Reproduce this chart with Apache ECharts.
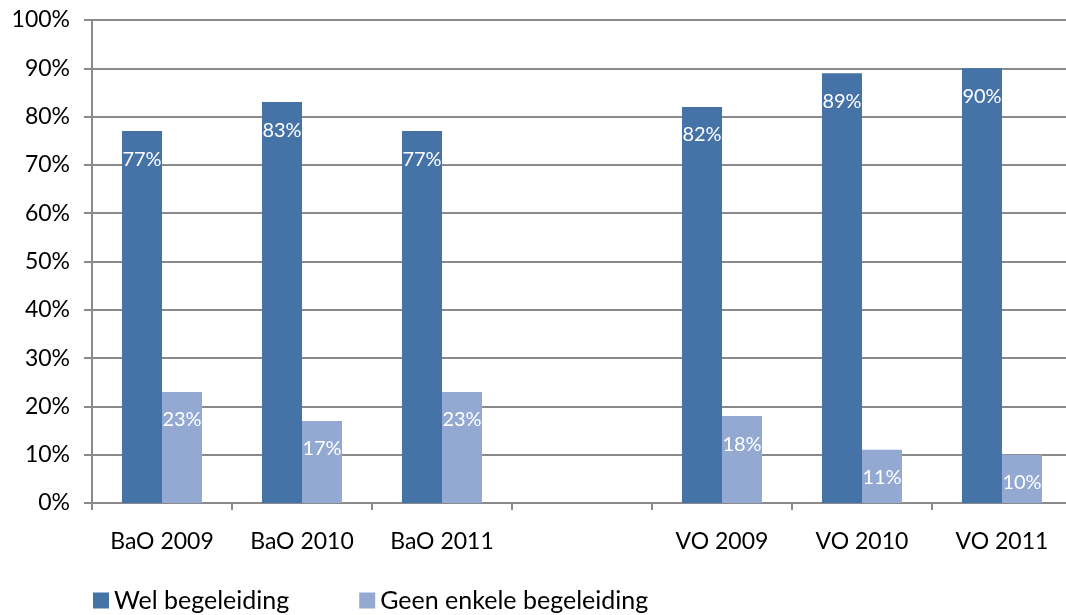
<!DOCTYPE html>
<html>
<head>
<meta charset="utf-8">
<script src="https://cdn.jsdelivr.net/npm/echarts@6/dist/echarts.min.js"></script>
<style>
  html, body { margin: 0; padding: 0; background: #fff; }
  #chart { width: 1066px; height: 615px; }
</style>
</head>
<body>
<div id="chart"></div>
<script>
// data
var categories = ['BaO 2009', 'BaO 2010', 'BaO 2011', '', 'VO 2009', 'VO 2010', 'VO 2011'];
var welName = 'Wel begeleiding';
var welData = [77, 83, 77, '-', 82, 89, 90];
var geenName = 'Geen enkele begeleiding';
var geenData = [23, 17, 23, '-', 18, 11, 10];
var yTicks = [0, 100, 10]; // min, max, interval

var font = 'Lato';
var axisGray = '#8a8a8a';

var myChart = echarts.init(document.getElementById('chart'));
myChart.setOption({
    animation: false,
    textStyle: { fontFamily: font },
    grid: {
        left: 92,
        top: 20,
        width: 980,
        height: 483,
        outerBoundsMode: 'none'
    },
    legend: {
        data: [welName, geenName],
        left: 88,
        top: 583,
        icon: 'rect',
        itemWidth: 16,
        itemHeight: 16,
        itemGap: 70,
        textStyle: { fontFamily: font, fontSize: 25, color: '#000' }
    },
    xAxis: {
        type: 'category',
        data: categories,
        axisLine: { lineStyle: { color: axisGray, width: 2 } },
        axisTick: { show: true, length: 7, lineStyle: { color: axisGray, width: 2 } },
        axisLabel: { fontFamily: font, fontSize: 23, color: '#000', margin: 27 }
    },
    yAxis: {
        type: 'value',
        min: yTicks[0],
        max: yTicks[1],
        interval: yTicks[2],
        axisLine: { show: true, lineStyle: { color: axisGray, width: 2 } },
        axisTick: { show: true, length: 8, lineStyle: { color: axisGray, width: 2 } },
        axisLabel: { formatter: '{value}%', fontFamily: font, fontSize: 23, color: '#000', margin: 22 },
        splitLine: { lineStyle: { color: axisGray, width: 2 } }
    },
    series: [
        {
            name: welName,
            type: 'bar',
            data: welData,
            barWidth: 40,
            barGap: 0,
            itemStyle: { color: '#4572A7' },
            label: {
                show: true,
                position: 'insideTop',
                distance: 18,
                formatter: '{c}%',
                color: '#fff',
                fontFamily: font,
                fontSize: 20
            }
        },
        {
            name: geenName,
            type: 'bar',
            data: geenData,
            barWidth: 40,
            barGap: 0,
            itemStyle: { color: '#94A9D1' },
            label: {
                show: true,
                position: 'insideTop',
                distance: 18,
                formatter: '{c}%',
                color: '#fff',
                fontFamily: font,
                fontSize: 20
            }
        }
    ]
});
</script>
</body>
</html>
